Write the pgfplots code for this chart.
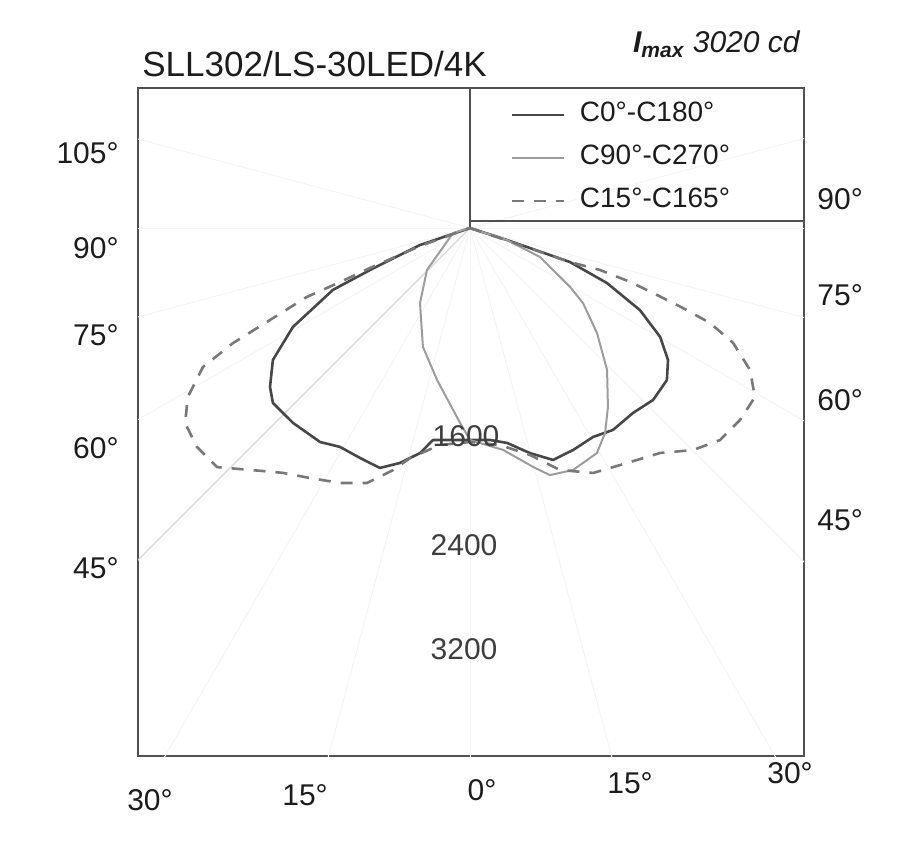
\documentclass[border=0pt]{standalone}
\usepackage{fontspec}
\setmainfont{Liberation Sans}
\usepackage{graphicx}
\usepackage{pgfplots}
\pgfplotsset{compat=1.18}
\definecolor{cA}{HTML}{474747}
\definecolor{cB}{HTML}{9C9C9C}
\definecolor{cC}{HTML}{787878}
\definecolor{frm}{HTML}{505050}
\definecolor{txt}{HTML}{1C1C1C}
\begin{document}
\begin{tikzpicture}
\path[use as bounding box] (0pt,0pt) rectangle (456.5pt,420pt);
\begin{axis}[
  at={(69pt,42pt)}, anchor=south west,
  scale only axis, width=333pt, height=334pt,
  xmin=-2494, xmax=2509, ymin=-3967, ymax=1052,
  ticks=none,
  axis line style={draw=frm, line width=1.1pt},
  legend style={at={(axis cs:300,965)}, anchor=north west, draw=none, fill=none,
    inner sep=0pt, row sep=6.5pt, column sep=6.5pt,
    font=\fontsize{14}{16}\selectfont, text=txt,
    nodes={inner sep=1pt, text height=10pt, text depth=3pt}},
  legend cell align=left,
  legend image code/.code={\draw[#1] (0pt,0pt) -- (26pt,0pt);},
]
% faint radial grid
\addplot[gray!9, line width=0.5pt, data cs=polar, forget plot] coordinates {(0,0) (-90,6000)};
\addplot[gray!9, line width=0.5pt, data cs=polar, forget plot] coordinates {(0,0) (-75,6000)};
\addplot[gray!9, line width=0.5pt, data cs=polar, forget plot] coordinates {(0,0) (-60,6000)};
\addplot[gray!9, line width=0.5pt, data cs=polar, forget plot] coordinates {(0,0) (-45,6000)};
\addplot[gray!9, line width=0.5pt, data cs=polar, forget plot] coordinates {(0,0) (-30,6000)};
\addplot[gray!9, line width=0.5pt, data cs=polar, forget plot] coordinates {(0,0) (-15,6000)};
\addplot[gray!9, line width=0.5pt, data cs=polar, forget plot] coordinates {(0,0) (0,6000)};
\addplot[gray!9, line width=0.5pt, data cs=polar, forget plot] coordinates {(0,0) (15,6000)};
\addplot[gray!9, line width=0.5pt, data cs=polar, forget plot] coordinates {(0,0) (-105,6000)};
\addplot[gray!9, line width=0.5pt, data cs=polar, forget plot] coordinates {(0,0) (-120,6000)};
\addplot[gray!32, line width=0.6pt, data cs=polar, forget plot] coordinates {(0,0) (-135,6000)};
\addplot[gray!9, line width=0.5pt, data cs=polar, forget plot] coordinates {(0,0) (-150,6000)};
\addplot[gray!9, line width=0.5pt, data cs=polar, forget plot] coordinates {(0,0) (-165,6000)};
\addplot[gray!9, line width=0.5pt, data cs=polar, forget plot] coordinates {(0,0) (-180,6000)};
\addplot[gray!9, line width=0.5pt, data cs=polar, forget plot] coordinates {(0,0) (-195,6000)};
% legend box lines
\draw[frm, line width=1.1pt] (axis cs:0,0) -- (axis cs:0,1052);
\draw[frm, line width=1.1pt] (axis cs:0,55) -- (axis cs:2509,55);
% C0-C180
\addplot[cA, line width=1.3pt, line join=round, data cs=polar] coordinates {
(0,0) (-18.0,292) (-18.8,793) (-21.9,1109) (-25.8,1418) (-29.8,1646) (-33.7,1788)
(-37.7,1869) (-43.2,1887) (-48.6,1852) (-54.7,1859) (-59.5,1822) (-65.1,1839)
(-70.3,1851) (-75.1,1750) (-80.2,1639) (-84.6,1600) (-90,1593) (-95.4,1600)
(-99.9,1617) (-102.5,1732) (-106.6,1842) (-110.6,1926) (-115.6,1915) (-120.7,1913)
(-125.0,1963) (-132.2,1978) (-138.4,1980) (-141.5,1920) (-146.2,1782) (-150.8,1524)
(-155.7,1130) (-157.2,815) (-161.2,397) (0,0)};
\addlegendentry{C0°-C180°}
% C90-C270
\addplot[cB, line width=1.0pt, line join=round, data cs=polar] coordinates {
(0,0) (-163.6,133) (-135.7,452) (-123.7,677) (-111.6,961) (-102.2,1169) (-95.3,1373)
(-92.9,1467) (-90,1593) (-81.5,1686) (-75.2,1857) (-72.1,1951) (-66.9,1976)
(-60.6,1941) (-56.6,1844) (-52.4,1698) (-46.0,1482) (-39.6,1238) (-33.6,1019)
(-30.5,872) (-22.5,569) (-18.0,292) (0,0)};
\addlegendentry{C90°-C270°}
% C15-C165
\addplot[cC, line width=1.3pt, dash pattern=on 6pt off 5pt, line join=round, data cs=polar] coordinates {
(0,0) (-18.8,397) (-18.8,793) (-17.9,1026) (-18.6,1269) (-19.7,1492) (-20.6,1709)
(-21.6,1939) (-23.6,2157) (-26.9,2359) (-30.7,2489) (-35.4,2489) (-40.3,2463)
(-44.9,2364) (-49.8,2213) (-56.3,2123) (-63.3,2060) (-69.6,1940) (-75.2,1764)
(-82.1,1646) (-90,1608) (-97.9,1646) (-104.6,1786) (-107.6,1908) (-112.0,2066)
(-117.0,2150) (-122.6,2230) (-127.4,2316) (-132.3,2457) (-136.6,2615) (-141.3,2630)
(-145.6,2594) (-149.1,2470) (-152.5,2262) (-154.1,1979) (-155.3,1654) (-157.1,1330)
(-157.4,1058) (-158.2,809) (-160.2,399) (0,0)};
\addlegendentry{C15°-C165°}
\end{axis}
% title and max intensity
\node[anchor=base west, inner sep=0pt, text=txt, font=\fontsize{17.5}{20}\selectfont] at (71pt,381.5pt) {SLL302/LS-30LED/4K};
\node[anchor=base east, inner sep=0pt, text=txt, font=\fontsize{15}{18}\selectfont\itshape] at (400pt,393.5pt) {{\bfseries I\textsubscript{max}} 3020 cd};
% intensity ring labels
\node[text=txt!85, inner sep=0pt, font=\fontsize{15}{18}\selectfont] at (233pt,202pt) {1600};
\node[text=txt!85, inner sep=0pt, font=\fontsize{15}{18}\selectfont] at (232pt,147.5pt) {2400};
\node[text=txt!85, inner sep=0pt, font=\fontsize{15}{18}\selectfont] at (232pt,95.5pt) {3200};
% angle labels
\begin{scope}[every node/.style={inner sep=0pt, text=txt, font=\fontsize{15}{18}\selectfont}]
\node[anchor=east] at (59.5pt,343.5pt) {105°};
\node[anchor=east] at (59.5pt,296pt) {90°};
\node[anchor=east] at (59.5pt,252.5pt) {75°};
\node[anchor=east] at (59.5pt,196pt) {60°};
\node[anchor=east] at (59.5pt,136pt) {45°};
\node[anchor=west] at (408.5pt,320.5pt) {90°};
\node[anchor=west] at (408.5pt,272.5pt) {75°};
\node[anchor=west] at (408.5pt,220pt) {60°};
\node[anchor=west] at (408.5pt,160pt) {45°};
\node at (75pt,20pt) {30°};
\node at (152.5pt,22.5pt) {15°};
\node at (241pt,25pt) {0°};
\node at (315pt,28.5pt) {15°};
\node at (395pt,33.5pt) {30°};
\end{scope}
\end{tikzpicture}
\end{document}
